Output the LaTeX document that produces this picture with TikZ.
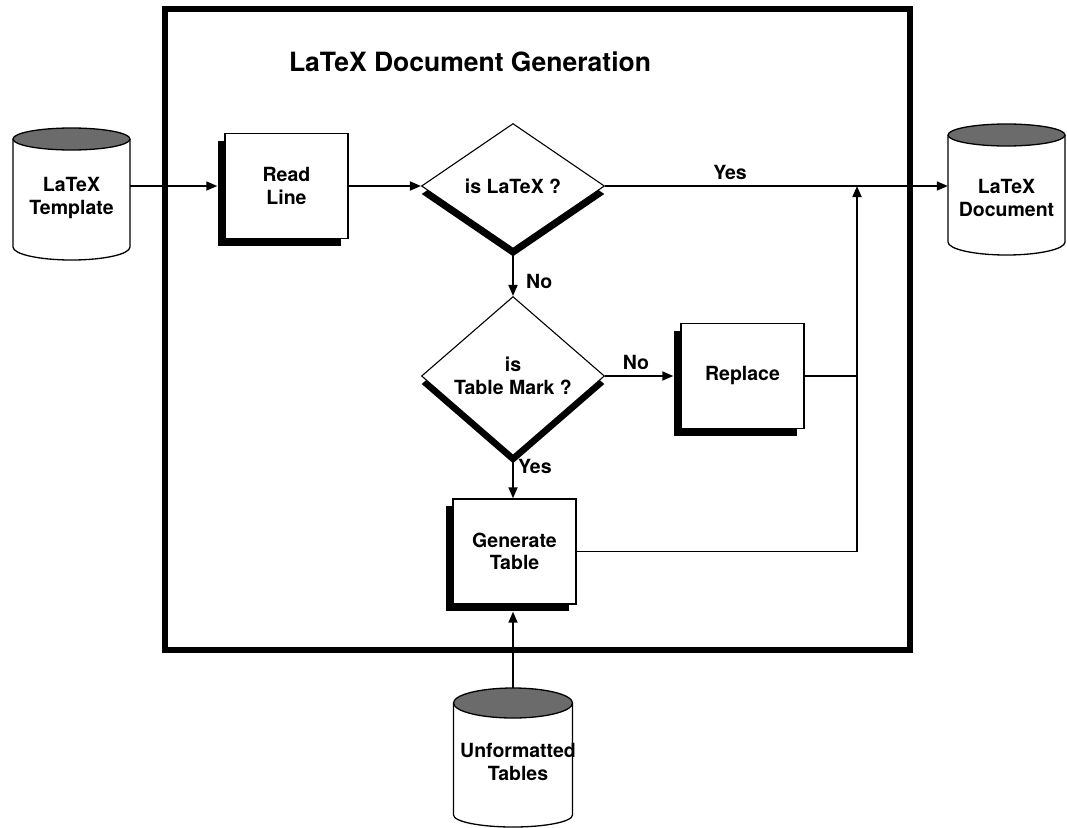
\documentclass[tikz,border=0pt]{standalone}
\usepackage{fontspec}
\setmainfont{TeX Gyre Heros}
\usetikzlibrary{arrows.meta,shapes.geometric,shadows}

% cylinder store: #1 centre x, #2 centre y of top ellipse, #3 y where the sides end,
% #4 half width, #5 top ellipse radius, #6 bottom arc radius
\newcommand\drumstore[6]{%
  \draw[line width=1.3pt, fill=white]
    ({#1-#4},#2) -- ({#1-#4},#3)
    arc[start angle=180, end angle=0, x radius=#4, y radius=#6]
    -- ({#1+#4},#2);
  \draw[line width=1.3pt, fill=black!58] (#1,#2) ellipse[x radius=#4, y radius=#5];
}

\begin{document}
\begin{tikzpicture}[x=1pt,y=-1pt,
  lbl/.style={font=\bfseries\fontsize{19.5}{22.5}\selectfont, align=center},
  proc/.style={lbl, draw, line width=1.4pt, fill=white,
    minimum width=123pt, minimum height=105pt, inner sep=0pt,
    drop shadow={shadow xshift=-7pt, shadow yshift=-7pt, fill=black, opacity=1}},
  dec/.style={lbl, diamond, draw, line width=1.1pt, fill=white,
    minimum width=183pt, minimum height=125pt, inner sep=1pt,
    drop shadow={shadow xshift=0pt, shadow yshift=-8pt, fill=black, opacity=1}},
  store/.style={lbl, minimum width=117pt, inner sep=0pt},
  flow/.style={line width=1.7pt, -{Triangle[length=11pt,width=9pt]}},
  wire/.style={line width=1.7pt},
  tag/.style={font=\bfseries\fontsize{19.5}{22.5}\selectfont, inner sep=0pt}
]
\useasboundingbox (0,0) rectangle (1067,827);

% outer frame
\draw[line width=6pt] (165,9) rectangle (909.5,649.5);
\node[font=\bfseries\fontsize{26.5}{30}\selectfont] (title) at (470,62) {LaTeX Document Generation};

% external stores
\drumstore{71.5}{139}{247}{58.5}{11}{13}
\node[store] (tmpl) at (71.5,198) {LaTeX\\Template};
\drumstore{1006.5}{135}{242}{58.5}{11}{13}
\node[store] (doc) at (1006.5,198) {LaTeX\\Document};
\drumstore{513}{703}{815}{59.5}{15}{12}
\node[store] (unf) at (518,762) {Unformatted\\Tables};
\coordinate (unftop) at (513,688);

% process steps and decisions
\node[proc] (rl) at (286.5,186) {Read\\Line};
\node[dec] (d1) at (513,186) {is LaTeX ?};
\node[dec] (d2) at (513,376) {is\\Table Mark ?};
\node[proc] (rep) at (742.5,376) {Replace};
\node[proc] (gen) at (514.5,551.5) {Generate\\Table};
\coordinate (bus) at (857,0);

% connectors
\draw[flow] (tmpl.east |- rl.west) -- ([xshift=-7pt]rl.west);
\draw[flow] (rl.east) -- (d1.west);
\draw[flow] (d1.east) -- (doc.west |- d1.east);
\draw[flow] (d1.south) -- (d2.north);
\draw[flow] (d2.east) -- ([xshift=-7pt]rep.west);
\draw[flow] (d2.south) -- (d2.south |- gen.north);
\draw[wire] (rep.east) -- (rep.east -| bus);
\draw[flow] (gen.east) -- (gen.east -| bus) -- (bus |- d1.east);
\draw[flow] (unftop) -- ([yshift=-7pt]gen.south -| unftop);

% branch labels
\node[tag] (yes1) at (730,172) {Yes};
\node[tag, anchor=west] (no1) at (526,281) {No};
\node[tag] (no2) at (636,362) {No};
\node[tag, anchor=west] (yes2) at (518,466) {Yes};
\end{tikzpicture}
\end{document}
